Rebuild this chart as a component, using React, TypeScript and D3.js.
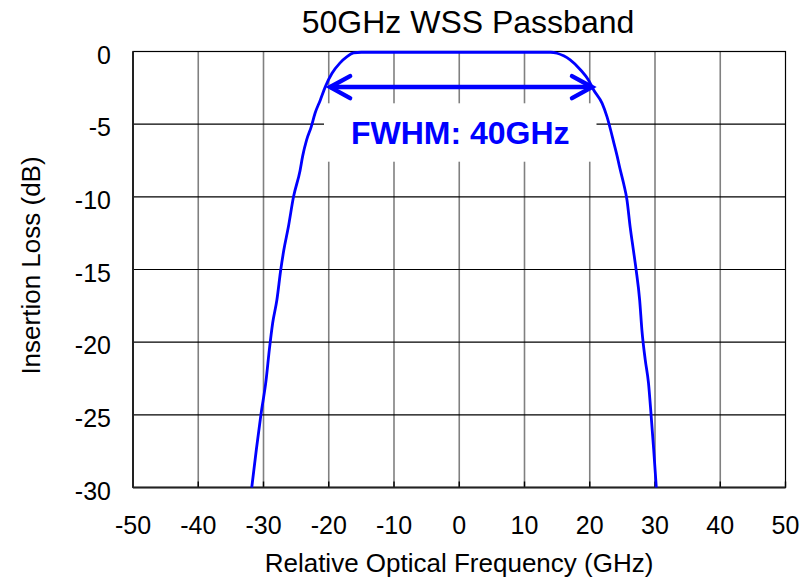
import React from "react";
import * as d3 from "d3";

const xTicks = [-50, -40, -30, -20, -10, 0, 10, 20, 30, 40, 50];
const yTicks = [0, -5, -10, -15, -20, -25, -30];

const freqGHz = [
  -31.8, -31.1, -30.4, -29.6, -29.1, -28.6, -27.95, -27.35, -26.9, -26.2, -25.4, -24.4, -24.0, -23.4,
  -22.7, -22.1, -21.3, -20.5, -19.5, -18.3, -17.2, -16.2, -15, -10, -5, 0, 5, 10, 14, 15.0, 16.0, 17.0,
  18.6, 19.8, 20.6, 21.9, 22.65, 23.2, 23.7, 24.2, 24.6, 25.2, 25.7, 26.2, 26.7, 27.1, 27.65, 28.0,
  28.5, 29.0, 29.4, 29.8, 30.2,
];
const lossDb = [
  -30, -27.4, -25.0, -22.6, -20.5, -18.7, -17.1, -15.0, -13.7, -12.1, -10.0, -8.2, -7.2, -6.1,
  -5.2, -4.25, -3.35, -2.4, -1.5, -0.8, -0.35, -0.1, -0.05, -0.05, -0.05, -0.05, -0.05, -0.05, -0.05, -0.12, -0.3, -0.58,
  -1.27, -1.96, -2.65, -3.57, -4.5, -5.4, -6.3, -7.2, -8.0, -9.1, -10.2, -12.1, -13.7, -15.0, -17.1, -19.2,
  -21.2, -22.8, -25.0, -27.4, -30,
];

const fwhmLeft = -20.1;
const fwhmRight = 20.5;
const fwhmLevel = -2.45;
const fwhmLabel = "FWHM: 40GHz";

const title = "50GHz WSS Passband";
const xTitle = "Relative Optical Frequency (GHz)";
const yTitle = "Insertion Loss (dB)";

export default function App() {
  const W = 802;
  const H = 579;
  const left = 133;
  const right = 785.5;
  const top = 51.5;
  const bottom = 487.5;

  const x = d3.scaleLinear().domain([-50, 50]).range([left, right]);
  const y = d3.scaleLinear().domain([-30, 0]).range([bottom, top]);

  const pts = freqGHz.map((f, i) => [f, lossDb[i]] as [number, number]);
  const line = d3
    .line<[number, number]>()
    .x((d) => x(d[0]))
    .y((d) => y(d[1]))
    .curve(d3.curveMonotoneX);

  const blue = "#0000FF";
  const font = "Liberation Sans, Arial, sans-serif";

  const ay = y(fwhmLevel);
  const axL = x(fwhmLeft) + 2;
  const axR = x(fwhmRight) - 1;
  const headL = 20;
  const headH = 11;

  const boxX0 = 324;
  const boxX1 = 596.5;
  const boxY0 = 103.3;
  const boxY1 = 161.7;

  return (
    <svg
      width={W}
      height={H}
      style={{ position: "absolute", left: 0, top: 0, display: "block", background: "#fff" }}
    >
      <rect x={0} y={0} width={W} height={H} fill="#fff" />
      {xTicks.slice(1, -1).map((t) => (
        <line key={"vx" + t} x1={x(t)} x2={x(t)} y1={top} y2={bottom} stroke="#808080" strokeWidth={1.6} />
      ))}
      {yTicks.slice(1, -1).map((t) => (
        <line key={"hy" + t} x1={left} x2={right} y1={y(t)} y2={y(t)} stroke="#000" strokeWidth={1.2} />
      ))}
      <rect x={boxX0} y={boxY0} width={boxX1 - boxX0} height={boxY1 - boxY0} fill="#fff" />
      {xTicks.map((t) => (
        <line key={"tx" + t} x1={x(t)} x2={x(t)} y1={bottom} y2={bottom - 6} stroke="#000" strokeWidth={1.4} />
      ))}
      <rect x={left} y={top} width={right - left} height={bottom - top} fill="none" stroke="#000" strokeWidth={1.2} />
      <line x1={left} x2={left} y1={top} y2={bottom} stroke="#222" strokeWidth={2} />
      <line x1={left} x2={right} y1={bottom} y2={bottom} stroke="#222" strokeWidth={2} />
      <path d={line(pts) || ""} fill="none" stroke={blue} strokeWidth={2.8} strokeLinejoin="round" />
      <line x1={axL} x2={axR} y1={ay} y2={ay} stroke={blue} strokeWidth={4.5} />
      <polyline
        points={`${axL + headL},${ay - headH} ${axL},${ay} ${axL + headL},${ay + headH}`}
        fill="none"
        stroke={blue}
        strokeWidth={4.5}
        strokeLinecap="round"
      />
      <polyline
        points={`${axR - headL},${ay - headH} ${axR},${ay} ${axR - headL},${ay + headH}`}
        fill="none"
        stroke={blue}
        strokeWidth={4.5}
        strokeLinecap="round"
      />
      <text
        x={(boxX0 + boxX1) / 2}
        y={143.5}
        textAnchor="middle"
        fill={blue}
        fontFamily={font}
        fontWeight="bold"
        fontSize={32}
      >
        {fwhmLabel}
      </text>
      {xTicks.map((t) => (
        <text key={"lx" + t} x={x(t)} y={534} textAnchor="middle" fontFamily={font} fontSize={25} fill="#000">
          {t}
        </text>
      ))}
      {yTicks.map((t) => (
        <text key={"ly" + t} x={111} y={y(t) + 12} textAnchor="end" fontFamily={font} fontSize={25} fill="#000">
          {t}
        </text>
      ))}
      <text x={468} y={33} textAnchor="middle" fontFamily={font} fontSize={32} fill="#000">
        {title}
      </text>
      <text x={459} y={572} textAnchor="middle" fontFamily={font} fontSize={26} fill="#000">
        {xTitle}
      </text>
      <text
        transform={`translate(40, ${(top + bottom) / 2 - 4}) rotate(-90)`}
        textAnchor="middle"
        fontFamily={font}
        fontSize={26}
        fill="#000"
      >
        {yTitle}
      </text>
    </svg>
  );
}
